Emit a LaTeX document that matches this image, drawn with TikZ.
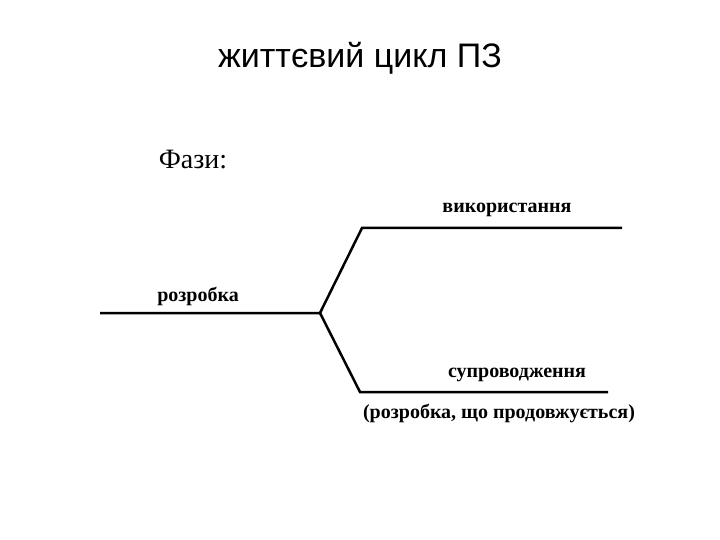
\documentclass[tikz,border=0pt]{standalone}
\usepackage{fontspec}
\setmainfont{Liberation Serif}
\newfontfamily\titlefont{Liberation Sans}
\begin{document}
\begin{tikzpicture}[x=1pt,y=-1pt,
  ln/.style={line width=2.5pt},
  lbl/.style={inner sep=0pt,font=\bfseries\fontsize{20}{24}\selectfont}]
\useasboundingbox (0,0) rectangle (720,540);
\node[inner sep=0pt,font=\titlefont\fontsize{34}{40}\selectfont] (title) at (360,58) {життєвий цикл ПЗ};
\node[inner sep=0pt,font=\fontsize{28}{32}\selectfont] (phases) at (193,160) {Фази:};
\coordinate (s) at (100,313);
\coordinate (j) at (320,313);
\coordinate (u1) at (362,228);
\coordinate (u2) at (622,228);
\coordinate (d1) at (360,392);
\coordinate (d2) at (608,392);
\draw[ln] (s) -- (j) -- (u1) -- (u2);
\draw[ln] (j) -- (d1) -- (d2);
\node[lbl] (use) at (507,210) {використання};
\node[lbl] (dev) at (198,296) {розробка};
\node[lbl] (sup) at (517,375) {супроводження};
\node[lbl] (cont) at (499,413) {(розробка, що продовжується)};
\end{tikzpicture}
\end{document}
